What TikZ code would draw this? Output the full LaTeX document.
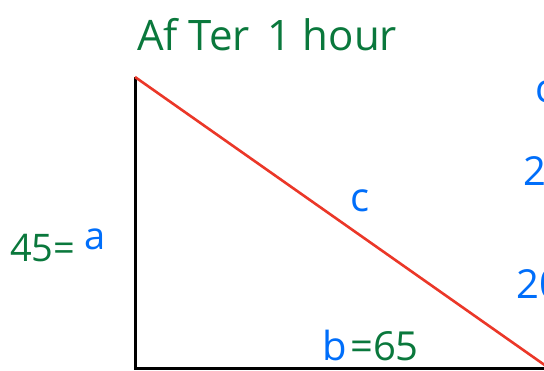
\documentclass[tikz,border=0pt]{standalone}
\usepackage{fontspec}
\setmainfont{Open Sans}
\definecolor{pgreen}{RGB}{10,120,60}
\definecolor{pblue}{RGB}{0,110,250}
\definecolor{pred}{RGB}{235,55,40}
\begin{document}
\begin{tikzpicture}[x=1pt,y=-1pt,
  lbl/.style={inner sep=0pt,anchor=base west},
  gtxt/.style={lbl,text=pgreen},
  btxt/.style={lbl,text=pblue}]
\useasboundingbox (0,0) rectangle (544,371);
\clip (0,0) rectangle (544,371);
\fill[white] (0,0) rectangle (544,371);
\coordinate (top) at (135,77);
\coordinate (corner) at (135,369);
\coordinate (right) at (546,369);
\coordinate (hyp) at (546,366);
\draw[line width=3pt] (top) -- (corner) -- (right);
\draw[pred,line width=2.6pt] (top) -- (hyp);
\node[gtxt] (title) at (137,51) {\fontsize{42}{42}\selectfont Af Ter\hspace{18pt}1 hour};
\node[gtxt] (n45) at (10,262) {\fontsize{38}{38}\selectfont 45=};
\node[btxt] (a) at (84,250) {\fontsize{38}{38}\selectfont a};
\node[btxt] (c) at (350,212) {\fontsize{40}{40}\selectfont c};
\node[btxt] (b) at (322,361) {\fontsize{40}{40}\selectfont b};
\node[gtxt] (n65) at (350,361) {\fontsize{40}{40}\selectfont =65};
\node[btxt] (c2) at (535,103) {\fontsize{40}{40}\selectfont c};
\node[btxt] (two) at (523,186) {\fontsize{40}{40}\selectfont 2};
\node[btxt] (twenty) at (516,299) {\fontsize{40}{40}\selectfont 20};
\end{tikzpicture}
\end{document}
